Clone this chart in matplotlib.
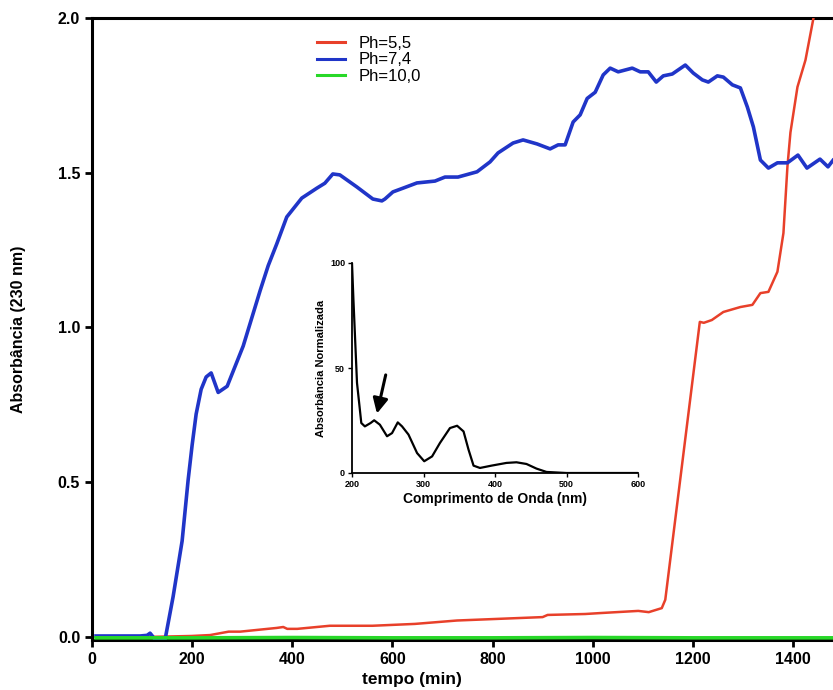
import matplotlib
matplotlib.use("Agg")
from matplotlib import pyplot as plt

# pH 5.5
t_red = [114, 199, 236, 273, 296, 369, 382, 390, 410, 475, 560, 645, 729, 900, 910,
         985, 1015, 1091, 1112, 1138, 1145, 1214, 1222, 1238, 1261, 1295, 1319,
         1335, 1351, 1369, 1381, 1389, 1395, 1409, 1425, 1441, 1460]
a_red = [0.0, 0.003, 0.006, 0.017, 0.017, 0.029, 0.032, 0.026, 0.026, 0.036, 0.036,
         0.042, 0.053, 0.064, 0.071, 0.074, 0.077, 0.084, 0.080, 0.093, 0.12, 1.018,
         1.015, 1.024, 1.05, 1.066, 1.073, 1.111, 1.115, 1.18, 1.305, 1.52, 1.63,
         1.777, 1.864, 2.0, 2.15]

# pH 7.4
t_blue = [8, 96, 110, 116, 126, 146, 162, 180, 192, 200, 208, 218, 228, 238, 252,
          270, 302, 336, 352, 369, 389, 419, 449, 465, 481, 495, 529, 561, 579, 585,
          601, 621, 649, 685, 705, 731, 769, 795, 811, 841, 861, 889, 915, 931, 945,
          961, 975, 989, 1005, 1021, 1035, 1051, 1079, 1095, 1111, 1127, 1141, 1159,
          1185, 1201, 1219, 1231, 1249, 1261, 1279, 1295, 1309, 1321, 1335, 1351,
          1369, 1389, 1410, 1428, 1454, 1470, 1480]
a_blue = [0.003, 0.003, 0.005, 0.012, -0.008, -0.008, 0.13, 0.31, 0.507, 0.62, 0.72,
          0.80, 0.84, 0.853, 0.79, 0.81, 0.94, 1.12, 1.20, 1.27, 1.357, 1.418, 1.45,
          1.466, 1.496, 1.493, 1.454, 1.415, 1.409, 1.415, 1.438, 1.45, 1.467, 1.473,
          1.486, 1.486, 1.503, 1.535, 1.564, 1.596, 1.606, 1.593, 1.577, 1.59, 1.59,
          1.664, 1.687, 1.74, 1.76, 1.816, 1.838, 1.826, 1.838, 1.826, 1.826, 1.793,
          1.813, 1.819, 1.848, 1.822, 1.80, 1.793, 1.813, 1.809, 1.784, 1.774, 1.712,
          1.648, 1.541, 1.515, 1.532, 1.532, 1.557, 1.515, 1.544, 1.519, 1.54]

# pH 10.0
t_green = [8, 200, 400, 600, 800, 1000, 1200, 1400, 1480]
a_green = [-0.003, -0.003, -0.002, -0.003, -0.003, -0.002, -0.003, -0.003, -0.003]

# inset spectrum
wl = [200, 202, 205, 207, 211, 213, 218, 226, 231, 239, 249, 256, 264, 270, 279,
      291, 301, 312, 323, 337, 347, 356, 363, 370, 379, 395, 416, 430, 444, 458,
      472, 500, 600]
absn = [100, 82.5, 58.7, 42.9, 30.2, 23.8, 22.2, 23.8, 25.1, 23.0, 17.5, 19.0, 24.1,
        22.2, 18.3, 9.5, 5.6, 7.9, 14.3, 21.4, 22.5, 19.8, 11.1, 3.5, 2.4, 3.5, 4.8,
        5.1, 4.3, 2.1, 0.5, 0.0, 0.0]

plt.rcParams["font.family"] = ["Liberation Sans", "DejaVu Sans"]

fig = plt.figure(figsize=(8.33, 6.9), dpi=100)
ax = fig.add_axes([92 / 833, 50 / 690, 741 / 833, 622 / 690])

ax.plot(t_red, a_red, color="#e8402a", lw=1.8, label="Ph=5,5", zorder=3)
ax.plot(t_blue, a_blue, color="#2035c8", lw=2.6, label="Ph=7,4", zorder=4)
ax.plot(t_green, a_green, color="#28d828", lw=2.6, label="Ph=10,0", zorder=5,
        clip_on=False)

ax.set_xlim(0, 1480)
ax.set_ylim(-0.01, 2.0)
ax.set_xticks([0, 200, 400, 600, 800, 1000, 1200, 1400])
ax.set_yticks([0.0, 0.5, 1.0, 1.5, 2.0])
ax.set_yticklabels(["0.0", "0.5", "1.0", "1.5", "2.0"])
ax.spines["right"].set_visible(False)
for s in ("left", "top", "bottom"):
    ax.spines[s].set_linewidth(2.2)
ax.tick_params(width=2, length=5, labelsize=11.5)
for lbl in ax.get_xticklabels() + ax.get_yticklabels():
    lbl.set_fontweight("bold")
ax.set_xlabel("tempo (min)", fontsize=12.5, fontweight="bold", labelpad=5)
ax.xaxis.set_label_coords(0.432, -0.052)
ax.set_ylabel("Absorbância (230 nm)", fontsize=11.5, fontweight="bold")
ax.yaxis.set_label_coords(-0.089, 0.5)

leg = ax.legend(loc="upper left", bbox_to_anchor=(302 / 833, 1 - 21 / 690),
                bbox_transform=fig.transFigure, frameon=False, fontsize=12,
                handlelength=1.7, labelspacing=0.08, handletextpad=0.8)
for line in leg.get_lines():
    line.set_linewidth(2.2)

# inset
ins = fig.add_axes([352 / 833, 217 / 690, 286 / 833, 210 / 690])
ins.plot(wl, absn, color="black", lw=1.6)
ins.set_xlim(200, 600)
ins.set_ylim(0, 100)
ins.set_xticks([200, 300, 400, 500, 600])
ins.set_yticks([0, 50, 100])
ins.spines["right"].set_visible(False)
ins.spines["top"].set_visible(False)
ins.spines["left"].set_linewidth(1.3)
ins.spines["bottom"].set_linewidth(1.3)
ins.tick_params(width=1, length=3, labelsize=6.5, pad=2)
for lbl in ins.get_xticklabels() + ins.get_yticklabels():
    lbl.set_fontweight("bold")
ins.set_xlabel("Comprimento de Onda (nm)", fontsize=10, fontweight="bold", labelpad=2)
ins.set_ylabel("Absorbância Normalizada", fontsize=8, fontweight="bold", labelpad=3)
ins.annotate("", xy=(234, 27), xytext=(248, 48),
             arrowprops=dict(arrowstyle="-|>,head_width=0.45,head_length=0.9",
                             color="black", lw=2.2))

fig.savefig("out.png", dpi=100)
